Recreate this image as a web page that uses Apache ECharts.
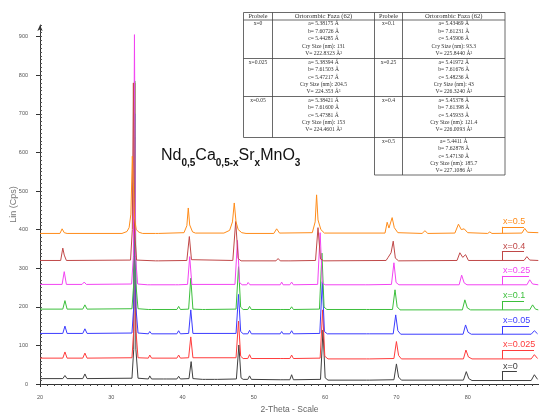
<!DOCTYPE html>
<html><head><meta charset="utf-8">
<script src="https://cdn.jsdelivr.net/npm/echarts@6/dist/echarts.min.js"></script>
<style>html,body{margin:0;padding:0;background:#fff}#c{width:539px;height:414px}</style>
</head><body><div id="c"></div>
<script>
// ---- data ----
const samples = ['x=0', 'x=0.025', 'x=0.05', 'x=0.1', 'x=0.25', 'x=0.4', 'x=0.5'];
const xTickLabels = [20, 30, 40, 50, 60, 70, 80];
const yTickLabels = [0, 100, 200, 300, 400, 500, 600, 700, 800, 900];

const s_x0 = [[20,14],[23.2,14],[23.5,22],[23.8,14],[26.0,14],[26.3,26],[26.6,14],[32.9,15],[33.15,90],[33.3,640],[33.45,90],[33.75,15],[35.2,13],[35.4,21],[35.65,13],[37.3,13],[37.5,17],[37.7,13],[39.2,13],[39.45,20],[39.7,13],[40.9,14],[41.2,58],[41.45,14],[42.8,12],[43.0,16],[43.2,12],[44.5,12],[44.7,16],[44.9,12],[47.55,13],[47.9,101],[48.2,16],[48.5,12],[49.15,12],[49.4,21],[49.65,12],[53.7,11],[53.9,15],[54.1,11],[55.05,11],[55.3,24],[55.55,11],[59.35,12],[59.7,140],[60.0,16],[60.4,10],[65.8,10],[66.0,14],[66.25,10],[69.65,11],[70.0,52],[70.3,18],[70.7,10],[79.4,10],[79.8,32],[80.15,14],[80.6,9],[84.8,9],[88.9,9],[89.35,24],[89.8,12]];
const s_x0025 = [[20,67],[23.2,67],[23.5,83],[23.8,67],[26.0,67],[26.3,80],[26.6,67],[32.9,68],[33.15,140],[33.3,780],[33.45,140],[33.75,68],[35.2,67],[35.4,75],[35.65,67],[39.2,67],[39.45,75],[39.7,67],[40.85,68],[41.15,122],[41.45,68],[47.5,68],[47.85,163],[48.15,72],[48.5,66],[49.15,66],[49.4,76],[49.65,66],[53.7,66],[53.9,70],[54.1,66],[55.05,66],[55.3,75],[55.55,66],[59.3,67],[59.65,192],[59.95,72],[60.4,65],[65.8,65],[66.0,69],[66.25,65],[69.65,66],[70.0,110],[70.3,74],[70.7,65],[79.4,65],[79.75,88],[80.1,70],[80.6,65],[88.9,65],[89.35,76],[89.8,66]];
const s_x005 = [[20,131],[23.2,131],[23.5,150],[23.8,131],[26.0,131],[26.3,143],[26.6,131],[32.9,132],[33.15,200],[33.3,700],[33.45,200],[33.75,132],[35.2,130],[35.4,136],[35.65,130],[39.2,130],[39.45,138],[39.7,130],[40.85,131],[41.15,192],[41.45,131],[47.5,131],[47.85,232],[48.15,136],[48.5,130],[49.15,130],[49.4,139],[49.65,130],[53.7,130],[53.9,136],[54.1,130],[55.05,130],[55.3,138],[55.55,130],[59.25,131],[59.6,265],[59.9,136],[60.3,130],[65.8,130],[66.0,134],[66.25,130],[69.55,130],[69.9,179],[70.2,138],[70.6,129],[79.35,129],[79.7,153],[80.05,134],[80.5,129],[88.9,129],[89.35,138],[89.8,130]];
const s_x01 = [[20,194],[23.2,194],[23.5,216],[23.8,194],[26.0,194],[26.3,205],[26.6,194],[32.9,195],[33.15,260],[33.3,785],[33.45,260],[33.75,195],[35.2,193],[35.4,198],[35.65,193],[39.2,193],[39.45,201],[39.7,193],[40.85,194],[41.15,274],[41.45,194],[42.8,193],[43.0,196],[43.2,193],[47.5,194],[47.85,304],[48.15,199],[48.5,193],[49.15,193],[49.4,201],[49.65,193],[53.7,193],[53.9,198],[54.1,193],[55.05,193],[55.3,200],[55.55,193],[59.2,194],[59.55,339],[59.85,199],[60.25,193],[65.8,193],[66.0,197],[66.25,193],[69.45,193],[69.8,244],[70.1,200],[70.5,192],[79.25,192],[79.6,218],[79.95,197],[80.4,192],[88.7,192],[89.1,205],[89.5,194],[89.9,192]];
const s_x025 = [[20,258],[23.1,258],[23.4,291],[23.7,258],[25.9,258],[26.2,264],[26.5,258],[32.85,259],[33.1,330],[33.25,905],[33.4,330],[33.7,259],[35.1,257],[35.3,262],[35.55,257],[39.0,257],[39.2,262],[39.45,257],[40.7,258],[41.0,330],[41.3,258],[47.35,258],[47.7,372],[48.0,263],[48.35,257],[49.0,257],[49.2,263],[49.45,257],[53.7,257],[53.9,264],[54.1,257],[55.05,257],[55.3,264],[55.55,257],[58.95,258],[59.3,392],[59.6,262],[60.0,257],[65.7,257],[65.9,261],[66.15,257],[69.3,258],[69.65,314],[69.95,263],[70.35,257],[78.8,257],[79.15,282],[79.5,262],[79.9,257],[88.3,257],[88.7,270],[89.1,259],[89.9,257]];
const s_x04 = [[20,320],[22.9,320],[23.2,352],[23.4,334],[23.7,320],[32.7,321],[32.95,400],[33.1,780],[33.25,400],[33.55,321],[36.2,319],[36.4,323],[36.6,319],[40.6,320],[40.95,382],[41.25,322],[47.05,320],[47.45,421],[47.8,325],[48.2,319],[53.1,319],[53.4,325],[53.7,319],[54.8,319],[55.0,322],[55.2,319],[58.65,320],[59.0,405],[59.35,324],[59.8,319],[68.55,320],[68.8,327],[69.25,340],[69.55,370],[69.85,326],[70.3,319],[78.5,320],[78.9,340],[79.3,328],[79.7,335],[80.1,320],[87.9,320],[88.3,330],[88.7,321],[89.9,320]];
const s_x05 = [[20,390],[22.8,390],[23.1,402],[23.4,392],[23.8,390],[31.5,390],[32.2,395],[32.5,405],[32.75,440],[32.95,590],[33.1,520],[33.25,430],[33.5,400],[33.9,393],[34.4,390],[36.2,390],[36.4,394],[36.6,390],[40.2,392],[40.6,410],[40.8,456],[41.0,412],[41.4,394],[41.8,391],[45.8,391],[46.6,398],[47.0,420],[47.25,469],[47.5,420],[47.8,400],[48.3,392],[48.9,390],[52.8,390],[53.2,402],[53.6,391],[58.2,392],[58.6,420],[58.8,490],[59.0,425],[59.4,400],[59.9,391],[68.4,391],[68.7,419],[68.95,404],[69.4,431],[69.7,405],[70.2,392],[73.6,390],[74.0,397],[74.4,390],[78.2,391],[78.7,414],[79.1,400],[79.5,402],[80.0,392],[82.8,390],[83.1,394],[83.4,390],[87.6,391],[88.0,403],[88.4,393],[89.9,392]];
const seriesData = [s_x0, s_x0025, s_x005, s_x01, s_x025, s_x04, s_x05];

// sample tag annotations (data coords): baseline at tag, underline level, underline end
const tagBase = [9, 65, 129, 192, 257, 320, 390];
const tagLevel = [32, 88, 150, 215, 280, 343, 407];
const tagEnd = [86.9, 89.3, 88.6, 87.9, 88.6, 87.9, 87.9];
const tagX = 84.8;

// inset table
const tableProbes = ['x=0', 'x=0.025', 'x=0.05', 'x=0.1', 'x=0.25', 'x=0.4', 'x=0.5'];
const latA = ['5.38175', '5.38394', '5.38421', '5.43469', '5.41972', '5.45378', '5.4411'];
const latB = ['7.60726', '7.61503', '7.61600', '7.61231', '7.61676', '7.61398', '7.62878'];
const latC = ['5.44285', '5.47217', '5.47381', '5.45906', '5.48236', '5.45933', '5.47130'];
const crySize = ['131', '204.5', '153', '93.3', '43', '121.4', '185.7'];
const cellV = ['222.8323', '224.353', '224.4601', '225.8440', '226.3240', '226.0093', '227.1086'];
const tableHeader = ['Probele', 'Ortorombic Faza (62)'];
const titleParts = [['Nd', '0,5'], ['Ca', '0,5-x'], ['Sr', 'x'], ['MnO', '3']];

// ---- styles ----
const colors = ['#404040', '#ff3c3c', '#3c3cff', '#3cbf3c', '#f244f2', '#c04848', '#ff8c1a'];

const chart = echarts.init(document.getElementById('c'), null, {renderer: 'canvas'});

const series = seriesData.map((d, i) => ({
  type: 'line', name: samples[i], data: d, showSymbol: false, symbol: 'none',
  lineStyle: {color: colors[i], width: 1}, itemStyle: {color: colors[i]},
  z: 2 + i, silent: true,
  markLine: {
    silent: true, symbol: ['none', 'none'], animation: false,
    lineStyle: {color: colors[i], width: 1, type: 'solid'},
    data: [
      [{coord: [tagX, tagBase[i]], label: {show: false}}, {coord: [tagX, tagLevel[i]]}],
      [{coord: [tagX, tagLevel[i]], label: {show: true, formatter: samples[i], position: 'insideStartTop', distance: 1, padding: 0, color: colors[i], fontSize: 9, fontFamily: 'Liberation Sans, Arial'}}, {coord: [tagEnd[i], tagLevel[i]]}]
    ]
  }
}));

// table graphics
const g = [];
const TL = 243.5, TR = 505, C1 = 272.5, CM = 374.5, C3 = 402.5;
const rowTops = [12.5, 20, 58.5, 96.5, 137.5, 175];
const lineStyle = {stroke: '#444', lineWidth: 0.8};
function hl(x1, x2, y) { g.push({type: 'line', shape: {x1, y1: y, x2, y2: y}, style: lineStyle, silent: true}); }
function vl(x, y1, y2) { g.push({type: 'line', shape: {x1: x, y1, x2: x, y2}, style: lineStyle, silent: true}); }
hl(TL, TR, rowTops[0]); hl(TL, TR, rowTops[1]); hl(TL, TR, rowTops[2]); hl(TL, TR, rowTops[3]); hl(TL, TR, rowTops[4]);
hl(CM, TR, rowTops[5]);
vl(TL, rowTops[0], rowTops[4]); vl(C1, rowTops[0], rowTops[4]); vl(CM, rowTops[0], rowTops[5]);
vl(C3, rowTops[0], rowTops[5]); vl(TR, rowTops[0], rowTops[5]);
const serif = 'Liberation Serif, Times New Roman, serif';
function txt(x, y, s, size) {
  g.push({type: 'text', x, y, silent: true, style: {text: s, fill: '#333', font: size + 'px ' + serif, textAlign: 'center', textVerticalAlign: 'middle'}});
}
txt((TL + C1) / 2, 16.4, tableHeader[0], 6.2); txt((C1 + CM) / 2, 16.4, tableHeader[1], 6.6);
txt((CM + C3) / 2, 16.4, tableHeader[0], 6.2); txt((C3 + TR) / 2, 16.4, tableHeader[1], 6.6);
for (let k = 0; k < 7; k++) {
  const left = k < 3;
  const row = left ? k : k - 3;
  const top = rowTops[row + 1];
  const pcx = left ? (TL + C1) / 2 : (CM + C3) / 2;
  const tcx = left ? (C1 + CM) / 2 : (C3 + TR) / 2;
  txt(pcx, top + 4, tableProbes[k], 5.6);
  const lines = ['a= ' + latA[k] + ' Å', 'b= ' + latB[k] + ' Å', 'c= ' + latC[k] + ' Å', 'Cry Size (nm): ' + crySize[k], 'V= ' + cellV[k] + ' Å³'];
  lines.forEach((s, j) => txt(tcx, top + 4 + j * 7.35, s, 5.6));
}
// compound title
const titleText = titleParts.map(p => '{m|' + p[0] + '}{s|' + p[1] + '}').join('');
g.push({type: 'text', x: 161, y: 148, silent: true, style: {
  text: titleText, fill: '#111',
  rich: {
    m: {fontSize: 16, fontFamily: 'Liberation Sans, Arial', fill: '#111', verticalAlign: 'bottom', padding: [0, 0, 4, 0]},
    s: {fontSize: 10, fontWeight: 'bold', fontFamily: 'Liberation Sans, Arial', fill: '#111', verticalAlign: 'bottom'}
  }
}});

const option = {
  animation: false,
  backgroundColor: '#fff',
  grid: {left: 40, right: 0, top: 25, bottom: 30, containLabel: false, outerBoundsMode: 'none'},
  xAxis: {
    type: 'value', min: 20, max: 90, interval: 10,
    axisLine: {lineStyle: {color: '#333', width: 1}},
    axisTick: {length: 3, lineStyle: {color: '#333'}},
    minorTick: {show: true, splitNumber: 10, length: 2, lineStyle: {color: '#444'}},
    splitLine: {show: false},
    axisLabel: {fontSize: 5.5, color: '#555', margin: 10, showMaxLabel: false,
      formatter: v => xTickLabels.includes(v) ? String(v) : ''},
    name: '2-Theta - Scale', nameLocation: 'middle', nameGap: 21, nameMoveOverlap: false,
    nameTextStyle: {fontSize: 8.5, color: '#666', fontFamily: 'Liberation Sans, Arial'}
  },
  yAxis: [{
    type: 'value', min: 0, max: 930, interval: 100,
    axisLine: {show: true, symbol: ['none', 'arrow'], symbolSize: [4, 6], lineStyle: {color: '#333', width: 1}},
    axisTick: {show: true, length: 4, lineStyle: {color: '#333'}},
    splitLine: {show: false},
    axisLabel: {fontSize: 5.5, color: '#555', margin: 12, showMaxLabel: false,
      formatter: v => yTickLabels.includes(v) ? String(v) : ''},
    name: 'Lin (Cps)', nameLocation: 'middle', nameGap: 22, nameMoveOverlap: false,
    nameTextStyle: {fontSize: 9, color: '#777', fontFamily: 'Liberation Sans, Arial'}
  }, {
    type: 'value', min: 0, max: 930, interval: 10, position: 'left',
    axisLine: {show: false},
    axisTick: {show: true, inside: true, length: 2, lineStyle: {color: '#555'}},
    axisLabel: {show: false}, splitLine: {show: false}
  }],
  series: series,
  graphic: g
};
chart.setOption(option);
</script>
</body></html>
